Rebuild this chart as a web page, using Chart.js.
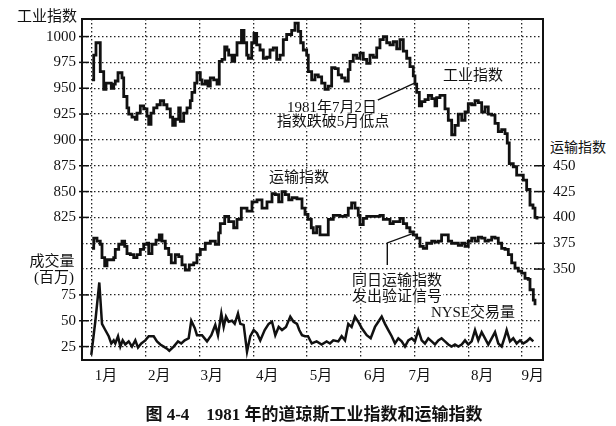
<!DOCTYPE html>
<html>
<head>
<meta charset="utf-8">
<script src="https://cdn.jsdelivr.net/npm/chart.js@4.4.1/dist/chart.umd.min.js"></script>
<style>
  body { margin: 0; background: #fff; }
  #wrap { position: relative; width: 616px; height: 426px; }
  .txt {
    position: absolute; transform: translate(-50%, -50%);
    white-space: nowrap; background: #fff; color: #111;
    font-family: 'Liberation Serif', 'Noto Sans CJK SC', serif;
    font-size: 15px; line-height: 15px; padding: 0 1px;
  }
  .cap { font-weight: bold; font-size: 17px; background: none; }
</style>
</head>
<body>
<div id="wrap">
  <canvas id="chart" width="616" height="426"></canvas>
  <div class="txt" style="left:47px;top:16px">工业指数</div>
  <div class="txt" style="left:52px;top:261px">成交量</div>
  <div class="txt" style="left:54px;top:277px">(百万)</div>
  <div class="txt" style="left:578px;top:147px;font-size:14px">运输指数</div>
  <div class="txt" style="left:473px;top:75px">工业指数</div>
  <div class="txt" style="left:332px;top:107px">1981年7月2日</div>
  <div class="txt" style="left:333px;top:121px">指数跌破5月低点</div>
  <div class="txt" style="left:299px;top:177px">运输指数</div>
  <div class="txt" style="left:397px;top:280px">同日运输指数</div>
  <div class="txt" style="left:397px;top:296px">发出验证信号</div>
  <div class="txt" style="left:473px;top:312px">NYSE交易量</div>
  <div class="txt cap" style="left:314px;top:414px">图 4-4　1981 年的道琼斯工业指数和运输指数</div>
</div>
<script>
// x values are month positions: 1 = start of January, 9 = start of September
const monthStarts = [1, 2, 3, 4, 5, 6, 7, 8, 9];
const monthLabels = ['1月', '2月', '3月', '4月', '5月', '6月', '7月', '8月', '9月'];
const monthLabelPos = [1.26, 2.25, 3.23, 4.26, 5.26, 6.27, 7.10, 8.26, 9.20];

// tick labels
const gridLevels = [700, 725, 750, 775, 800, 825, 850, 875, 900, 925, 950, 975, 1000];
const dowTicks = [825, 850, 875, 900, 925, 950, 975, 1000];
const volTicks = [25, 50, 75];
const transTicks = [350, 375, 400, 425, 450];

// panels share one vertical scale: volume 0 sits at Dow 675, transport 0 at Dow 425
const VOL_BASE = 675;
const TRANS_BASE = 425;
const DOW_MIN = 687, DOW_MAX = 1017;

// Dow Jones Industrial Average
const dowMonths = [1.000, 1.032, 1.074, 1.136, 1.154, 1.199, 1.218, 1.260, 1.311, 1.359, 1.404, 1.433, 1.484, 1.527,
  1.558, 1.590, 1.651, 1.683, 1.744, 1.806, 1.837, 1.899, 1.962, 2.023, 2.055, 2.098, 2.148, 2.209, 2.271, 2.334,
  2.395, 2.457, 2.501, 2.550, 2.613, 2.643, 2.706, 2.767, 2.829, 2.860, 2.911, 2.953, 3.015, 3.047, 3.108, 3.158,
  3.201, 3.264, 3.326, 3.368, 3.419, 3.469, 3.512, 3.543, 3.605, 3.655, 3.698, 3.781, 3.828, 3.878, 3.908, 3.971,
  4.014, 4.064, 4.126, 4.187, 4.250, 4.312, 4.373, 4.436, 4.498, 4.559, 4.622, 4.684, 4.715, 4.777, 4.838, 4.883,
  4.931, 4.994, 5.024, 5.087, 5.149, 5.210, 5.273, 5.335, 5.396, 5.459, 5.521, 5.582, 5.645, 5.707, 5.768, 5.800,
  5.861, 5.924, 5.986, 6.047, 6.111, 6.172, 6.234, 6.297, 6.358, 6.420, 6.483, 6.544, 6.606, 6.669, 6.730, 6.792,
  6.855, 6.916, 6.978, 7.009, 7.041, 7.090, 7.134, 7.195, 7.257, 7.320, 7.381, 7.413, 7.474, 7.536, 7.567, 7.629,
  7.692, 7.753, 7.815, 7.878, 7.940, 8.001, 8.064, 8.126, 8.187, 8.250, 8.312, 8.373, 8.436, 8.498, 8.559, 8.622,
  8.684, 8.726, 8.763, 8.838, 8.901, 8.963, 9.024, 9.087, 9.149, 9.205, 9.242, 9.279];
const dowValues = [958, 982, 994, 994, 966, 966, 949, 955, 955, 950, 954, 957, 965, 965,
  960, 942, 931, 925, 922, 920, 926, 933, 930, 923, 915, 926, 931, 934, 938, 934,
  930, 922, 914, 920, 931, 918, 926, 931, 938, 946, 955, 965, 958, 954, 957, 952,
  960, 958, 954, 976, 978, 990, 987, 982, 976, 982, 994, 1006, 994, 982, 979, 994,
  1003, 992, 987, 979, 980, 987, 989, 978, 982, 997, 1002, 1002, 1006, 1013, 1005, 994,
  987, 982, 966, 958, 963, 961, 955, 949, 952, 970, 969, 963, 960, 957, 968, 976,
  982, 979, 984, 978, 974, 982, 980, 989, 997, 1000, 994, 992, 995, 988, 997, 986,
  979, 971, 962, 954, 946, 933, 937, 939, 943, 940, 933, 941, 943, 943, 930, 919,
  905, 914, 925, 919, 927, 935, 934, 938, 936, 927, 932, 925, 924, 916, 908, 910,
  906, 897, 877, 874, 866, 866, 861, 852, 837, 834, 825, 823];

// Dow Jones Transportation Average
const transMonths = [1.000, 1.032, 1.093, 1.154, 1.186, 1.236, 1.279, 1.340, 1.404, 1.433, 1.497, 1.558, 1.608, 1.651,
  1.713, 1.776, 1.837, 1.899, 1.962, 2.023, 2.055, 2.116, 2.191, 2.252, 2.302, 2.364, 2.427, 2.475, 2.550, 2.613,
  2.674, 2.736, 2.810, 2.892, 2.953, 3.015, 3.108, 3.201, 3.294, 3.357, 3.387, 3.469, 3.543, 3.636, 3.698, 3.778,
  3.884, 3.977, 4.070, 4.163, 4.256, 4.349, 4.410, 4.473, 4.535, 4.596, 4.660, 4.721, 4.814, 4.907, 4.963, 5.019,
  5.080, 5.117, 5.180, 5.242, 5.335, 5.396, 5.489, 5.614, 5.707, 5.768, 5.830, 5.893, 5.954, 5.986, 6.047, 6.111,
  6.297, 6.358, 6.420, 6.544, 6.606, 6.730, 6.792, 6.855, 6.916, 6.978, 7.041, 7.102, 7.164, 7.227, 7.320, 7.381,
  7.443, 7.504, 7.567, 7.629, 7.692, 7.815, 7.878, 7.940, 8.001, 8.064, 8.126, 8.187, 8.250, 8.312, 8.373, 8.436,
  8.498, 8.559, 8.622, 8.684, 8.746, 8.808, 8.870, 8.931, 8.994, 9.056, 9.117, 9.149, 9.211, 9.242];
const transValues = [370, 380, 377, 374, 361, 353, 359, 359, 361, 369, 374, 377, 372, 365,
  364, 361, 364, 369, 374, 375, 365, 374, 378, 383, 377, 370, 364, 356, 364, 362,
  354, 349, 354, 356, 364, 369, 375, 377, 374, 385, 394, 401, 396, 390, 398, 409,
  406, 415, 417, 409, 415, 423, 422, 415, 425, 422, 417, 419, 418, 409, 403, 398,
  390, 385, 391, 383, 383, 398, 402, 401, 402, 409, 414, 409, 402, 393, 399, 401,
  401, 402, 398, 394, 396, 399, 394, 390, 386, 383, 380, 372, 370, 375, 377, 376,
  377, 383, 383, 377, 375, 373, 375, 372, 377, 380, 377, 381, 380, 377, 378, 381,
  380, 375, 370, 369, 364, 356, 351, 348, 346, 341, 340, 330, 320, 315];

// NYSE volume, millions of shares
const volMonths = [0.987, 1.061, 1.136, 1.186, 1.247, 1.311, 1.359, 1.404, 1.433, 1.484, 1.527, 1.571, 1.620, 1.683,
  1.744, 1.806, 1.856, 1.917, 1.992, 2.055, 2.148, 2.209, 2.271, 2.334, 2.395, 2.438, 2.520, 2.600, 2.661, 2.725,
  2.799, 2.847, 2.911, 2.953, 3.047, 3.140, 3.220, 3.294, 3.344, 3.406, 3.450, 3.493, 3.543, 3.605, 3.655, 3.716,
  3.759, 3.822, 3.884, 3.945, 4.008, 4.070, 4.131, 4.213, 4.287, 4.349, 4.410, 4.473, 4.535, 4.609, 4.689, 4.750,
  4.814, 4.856, 4.907, 4.963, 5.019, 5.088, 5.180, 5.273, 5.366, 5.428, 5.489, 5.582, 5.645, 5.707, 5.768, 5.830,
  5.893, 5.954, 6.017, 6.111, 6.185, 6.265, 6.327, 6.390, 6.451, 6.513, 6.576, 6.637, 6.699, 6.762, 6.823, 6.885,
  6.948, 7.009, 7.071, 7.134, 7.195, 7.257, 7.320, 7.381, 7.443, 7.504, 7.567, 7.629, 7.692, 7.753, 7.815, 7.878,
  7.940, 8.001, 8.064, 8.126, 8.187, 8.250, 8.312, 8.373, 8.436, 8.498, 8.559, 8.622, 8.684, 8.715, 8.777, 8.838,
  8.901, 8.963, 9.024, 9.087, 9.149, 9.211];
const volValues = [17, 49, 87, 47, 41, 35, 28, 31, 28, 35, 25, 31, 27, 30,
  25, 31, 24, 28, 31, 35, 35, 30, 27, 25, 23, 21, 25, 30, 28, 31,
  33, 50, 43, 36, 36, 30, 36, 46, 36, 57, 44, 54, 49, 50, 47, 57,
  47, 46, 20, 35, 41, 38, 31, 41, 47, 49, 36, 44, 41, 44, 54, 49,
  47, 41, 36, 35, 35, 28, 30, 27, 30, 28, 31, 30, 35, 31, 47, 44,
  54, 49, 43, 36, 33, 44, 49, 54, 47, 41, 35, 28, 33, 30, 25, 31,
  33, 30, 41, 31, 28, 33, 30, 27, 31, 33, 30, 27, 25, 27, 25, 27,
  31, 27, 30, 41, 31, 39, 33, 27, 33, 39, 28, 25, 35, 41, 30, 33,
  28, 31, 28, 30, 33, 30];

// annotation anchors: 2 July 1981
const breakPoint = { month: 7.0, dow: 955 };
const signalPoint = { month: 6.95, trans: 384 };

function pairs(xs, ys) {
  return xs.map((x, i) => ({ x: x, y: ys[i] }));
}

const INK = '#111';
const DOTS = [1.5, 2.5];

const framePlugin = {
  id: 'frame',
  afterDatasetsDraw(chart) {
    const { ctx, chartArea: a, scales } = chart;
    const seg = (pts) => {
      ctx.beginPath();
      ctx.moveTo(pts[0][0], pts[0][1]);
      for (let i = 1; i < pts.length; i++) ctx.lineTo(pts[i][0], pts[i][1]);
      ctx.stroke();
    };
    ctx.save();
    ctx.strokeStyle = INK;
    ctx.lineWidth = 2;
    ctx.strokeRect(a.left, a.top, a.right - a.left, a.bottom - a.top);

    // short solid ticks at the labelled levels
    ctx.lineWidth = 1.5;
    dowTicks.forEach((v) => {
      const y = scales.y.getPixelForValue(v);
      seg([[a.left - 3, y], [a.left + 7, y]]);
    });
    volTicks.forEach((v) => {
      const y = scales.yv.getPixelForValue(v);
      seg([[a.left - 3, y], [a.left + 7, y]]);
    });
    transTicks.forEach((v) => {
      const y = scales.yt.getPixelForValue(v);
      seg([[a.right - 9, y], [a.right + 2, y]]);
    });

    // leader lines
    ctx.lineWidth = 1.4;
    const bx = scales.x.getPixelForValue(breakPoint.month);
    const by = scales.y.getPixelForValue(breakPoint.dow);
    seg([[bx - 39, by + 18], [bx, by]]);
    const sx = scales.x.getPixelForValue(signalPoint.month);
    const sy = scales.yt.getPixelForValue(signalPoint.trans);
    seg([[sx, sy], [sx - 24.5, sy + 9], [sx - 24.5, sy + 31]]);
    ctx.restore();
  }
};

Chart.defaults.font.family = "'Liberation Serif', 'Noto Sans CJK SC', serif";
Chart.defaults.font.size = 15;
Chart.defaults.color = INK;

new Chart(document.getElementById('chart'), {
  type: 'line',
  data: {
    datasets: [
      {
        label: '工业指数',
        data: pairs(dowMonths, dowValues),
        yAxisID: 'y',
        borderColor: INK,
        borderWidth: 2.8,
        stepped: true,
        pointRadius: 0
      },
      {
        label: '运输指数',
        data: pairs(transMonths, transValues),
        yAxisID: 'yt',
        borderColor: INK,
        borderWidth: 2.8,
        stepped: true,
        pointRadius: 0
      },
      {
        label: 'NYSE交易量',
        data: pairs(volMonths, volValues),
        yAxisID: 'yv',
        borderColor: INK,
        borderWidth: 2.5,
        tension: 0,
        pointRadius: 0
      }
    ]
  },
  options: {
    responsive: false,
    animation: false,
    layout: { padding: { top: 14, left: 0, right: 0, bottom: 0 }, autoPadding: false },
    plugins: { legend: { display: false }, tooltip: { enabled: false } },
    scales: {
      x: {
        type: 'linear',
        position: 'bottom',
        min: 0.814,
        max: 9.391,
        afterBuildTicks: (s) => { s.ticks = monthStarts.map((v) => ({ value: v })); },
        afterFit: (s) => { s.height = 0; },
        ticks: { display: false },
        grid: { color: '#222', lineWidth: 1.3, drawTicks: false },
        border: { display: false, dash: DOTS }
      },
      xm: {
        type: 'linear',
        position: 'bottom',
        min: 0.814,
        max: 9.391,
        afterBuildTicks: (s) => { s.ticks = monthLabelPos.map((v) => ({ value: v })); },
        afterFit: (s) => { s.height = 66; },
        ticks: {
          autoSkip: false,
          maxRotation: 0,
          padding: 7,
          font: { size: 15 },
          callback: (v, i) => monthLabels[i]
        },
        grid: { display: false, drawTicks: false },
        border: { display: false }
      },
      y: {
        type: 'linear',
        position: 'left',
        min: DOW_MIN,
        max: DOW_MAX,
        afterBuildTicks: (s) => { s.ticks = gridLevels.map((v) => ({ value: v })); },
        afterFit: (s) => { s.width = 82; },
        ticks: {
          padding: 6,
          callback: (v) => {
            if (dowTicks.includes(v)) return String(v);
            if (volTicks.includes(v - VOL_BASE)) return String(v - VOL_BASE);
            return '';
          }
        },
        grid: { color: '#222', lineWidth: 1.3, drawTicks: false },
        border: { display: false, dash: DOTS }
      },
      yv: {
        type: 'linear',
        display: false,
        min: DOW_MIN - VOL_BASE,
        max: DOW_MAX - VOL_BASE
      },
      yt: {
        type: 'linear',
        position: 'right',
        min: DOW_MIN - TRANS_BASE,
        max: DOW_MAX - TRANS_BASE,
        afterBuildTicks: (s) => { s.ticks = transTicks.map((v) => ({ value: v })); },
        afterFit: (s) => { s.width = 73; },
        ticks: { padding: 10 },
        grid: { display: false, drawTicks: false },
        border: { display: false }
      }
    }
  },
  plugins: [framePlugin]
});
</script>
</body>
</html>
